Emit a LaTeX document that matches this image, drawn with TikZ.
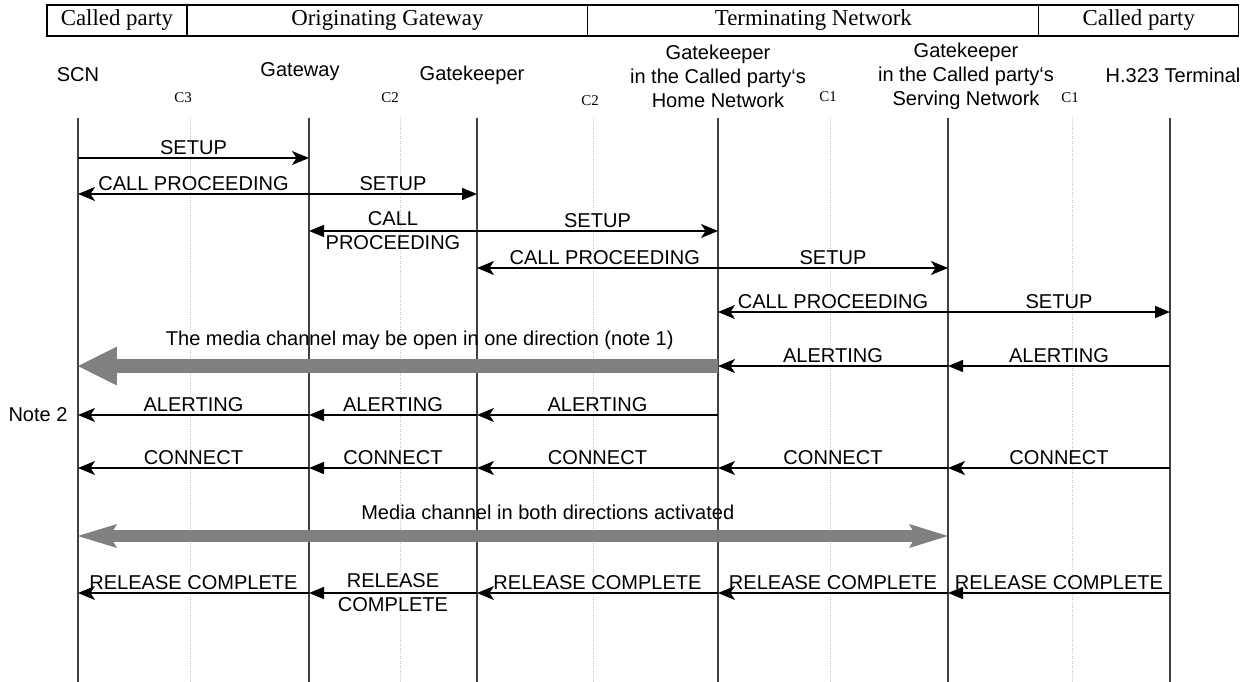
\documentclass[tikz,border=0pt]{standalone}
\usepackage{fontspec}
\setmainfont{Liberation Serif}
\setsansfont{Liberation Sans}
\usetikzlibrary{positioning,arrows.meta}
\definecolor{ink}     {HTML}{000000}
\definecolor{lifeink} {HTML}{404040}
\definecolor{media}   {HTML}{808080}
\definecolor{guide}   {HTML}{C4C4C4}
\tikzset{
  % --- nodes
  cell/.style  = {draw=ink, line width=0.6pt, outer sep=0pt, inner sep=0pt,
                  minimum height=0.62cm, font=\fontsize{13}{15}\selectfont\rmfamily},
  ent/.style   = {align=center, inner sep=0pt, font=\fontsize{11.4}{13.6}\selectfont\sffamily},
  cref/.style  = {inner sep=0pt, font=\fontsize{8.5}{10}\selectfont\rmfamily},
  lbl/.style   = {inner sep=1.5pt, align=center, font=\fontsize{11.4}{13.6}\selectfont\sffamily},
  % --- edges
  life/.style  = {draw=lifeink, line width=0.7pt},
  aux/.style   = {draw=guide, densely dotted, line width=0.45pt},
  msg/.style   = {-{Stealth[length=0.34cm,width=0.28cm,inset=0.09cm]}, draw=ink, line width=0.85pt},
  msgt/.style  = {-{Triangle[length=0.3cm,width=0.24cm]}, draw=ink, line width=0.85pt},
  mone/.style  = {-{Triangle[length=0.78cm,width=0.78cm,line width=0pt]}, draw=media, line width=0.28cm},
  mtwo/.style  = {{Stealth[length=0.78cm,width=0.48cm,inset=0.14cm,line width=0pt]}-{Stealth[length=0.78cm,width=0.48cm,inset=0.14cm,line width=0pt]},
                  draw=media, line width=0.24cm},
}

\begin{document}
\begin{tikzpicture}[x=0.02cm, y=-0.02cm]
  \useasboundingbox (0,0) rectangle (1247,682);

  % header row
  \node[cell, minimum width=2.8cm, anchor=north west] (hcalling) at (47,5) {Called party};
  \node[cell, minimum width=8.02cm, right=0pt of hcalling] (horig) {Originating Gateway};
  \node[cell, minimum width=9.02cm, right=0pt of horig] (hterm) {Terminating Network};
  \node[cell, minimum width=4cm, right=0pt of hterm] (hcalled) {Called party};

  % entities
  \node[ent] (scnlbl)  at (78,75)   {SCN};
  \node[ent] (gwlbl)   at (300,72)  {Gateway};
  \node[ent] (gklbl)   at (472,75)  {Gatekeeper};
  \node[ent] (hgklbl)  at (718,76)  {Gatekeeper\\in the Called party‘s\\Home Network};
  \node[ent] (sgklbl)  at (966,76)  {Gatekeeper\\in the Called party‘s\\Serving Network};
  \node[ent] (termlbl) at (1173,75) {H.323 Terminal};

  \node[cref] (cthree) at (183,98)  {C3};
  \node[cref] (ctwoa)  at (390,98)  {C2};
  \node[cref] (ctwob)  at (590,101) {C2};
  \node[cref] (conea)  at (828,97)  {C1};
  \node[cref] (coneb)  at (1070,98) {C1};

  % lifelines
  \coordinate (scn)  at (78,118);
  \coordinate (gw)   at (309,118);
  \coordinate (gk)   at (477,118);
  \coordinate (hgk)  at (718,118);
  \coordinate (sgk)  at (948,118);
  \coordinate (term) at (1170,118);
  \coordinate (bot)  at (0,682);

  \draw[aux] (190,118) -- (190,682);
  \draw[aux] (400,118) -- (400,682);
  \draw[aux] (593,118) -- (593,682);
  \draw[aux] (830,118) -- (830,682);
  \draw[aux] (1072,118) -- (1072,682);

  \draw[life] (scn) -- (scn|-bot);
  \draw[life] (gw) -- (gw|-bot);
  \draw[life] (gk) -- (gk|-bot);
  \draw[life] (hgk) -- (hgk|-bot);
  \draw[life] (sgk) -- (sgk|-bot);
  \draw[life] (term) -- (term|-bot);

  % message rows
  \coordinate (r1) at (0,158);  \coordinate (r2) at (0,194);
  \coordinate (r3) at (0,231);  \coordinate (r4) at (0,268);
  \coordinate (r5) at (0,312);  \coordinate (r6) at (0,366);
  \coordinate (r7) at (0,415);  \coordinate (r8) at (0,468);
  \coordinate (r9) at (0,536);  \coordinate (r10) at (0,593);

  \draw[msg] (scn|-r1) -- node[lbl, above] {SETUP} (gw|-r1);

  \draw[msg] (gw|-r2) -- node[lbl, above] {CALL PROCEEDING} (scn|-r2);
  \draw[msgt] (gw|-r2) -- node[lbl, above] {SETUP} (gk|-r2);

  \draw[msgt] (gk|-r3) -- node[lbl] {CALL\\PROCEEDING} (gw|-r3);
  \draw[msg] (gk|-r3) -- node[lbl, above] {SETUP} (hgk|-r3);

  \draw[msg] (hgk|-r4) -- node[lbl, above, pos=0.47] {CALL PROCEEDING} (gk|-r4);
  \draw[msg] (hgk|-r4) -- node[lbl, above] {SETUP} (sgk|-r4);

  \draw[msg] (sgk|-r5) -- node[lbl, above] {CALL PROCEEDING} (hgk|-r5);
  \draw[msgt] (sgk|-r5) -- node[lbl, above] {SETUP} (term|-r5);

  \draw[mone] (hgk|-r6) -- node[lbl, above=0.14cm, pos=0.466] {The media channel may be open in one direction (note 1)} (scn|-r6);
  \draw[msg] (sgk|-r6) -- node[lbl, above] {ALERTING} (hgk|-r6);
  \draw[msgt] (term|-r6) -- node[lbl, above] {ALERTING} (sgk|-r6);

  \draw[msg] (gw|-r7) -- node[lbl, above] {ALERTING} (scn|-r7);
  \draw[msgt] (gk|-r7) -- node[lbl, above] {ALERTING} (gw|-r7);
  \draw[msg] (hgk|-r7) -- node[lbl, above] {ALERTING} (gk|-r7);
  \path (scn|-r7) node[lbl, left=0.15cm] (note) {Note 2};

  \draw[msg] (gw|-r8) -- node[lbl, above] {CONNECT} (scn|-r8);
  \draw[msgt] (gk|-r8) -- node[lbl, above] {CONNECT} (gw|-r8);
  \draw[msg] (hgk|-r8) -- node[lbl, above] {CONNECT} (gk|-r8);
  \draw[msg] (sgk|-r8) -- node[lbl, above] {CONNECT} (hgk|-r8);
  \draw[msg] (term|-r8) -- node[lbl, above] {CONNECT} (sgk|-r8);

  \draw[mtwo] (scn|-r9) -- node[lbl, above=0.15cm, pos=0.54] {Media channel in both directions activated} (sgk|-r9);

  \draw[msg] (gw|-r10) -- node[lbl, above] {RELEASE COMPLETE} (scn|-r10);
  \draw[msgt] (gk|-r10) -- node[lbl] {RELEASE\\COMPLETE} (gw|-r10);
  \draw[msg] (hgk|-r10) -- node[lbl, above] {RELEASE COMPLETE} (gk|-r10);
  \draw[msg] (sgk|-r10) -- node[lbl, above] {RELEASE COMPLETE} (hgk|-r10);
  \draw[msgt] (term|-r10) -- node[lbl, above] {RELEASE COMPLETE} (sgk|-r10);
\end{tikzpicture}
\end{document}
